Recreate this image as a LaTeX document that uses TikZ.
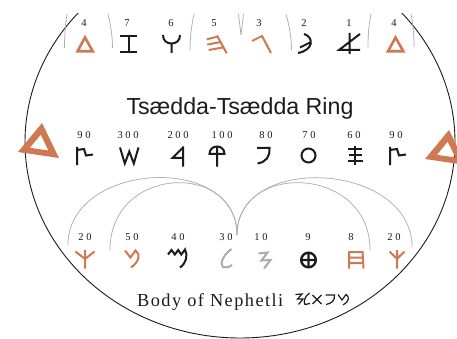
\documentclass[tikz,border=0pt]{standalone}
\usepackage{fontspec}
\setmainfont{Liberation Serif}
\newfontfamily\numfont[LetterSpace=25]{Liberation Serif}
\newfontfamily\titlefont{Liberation Sans}
\newfontfamily\bodyfont[LetterSpace=8]{Liberation Serif}
\definecolor{ochre}{RGB}{207,121,82}
\definecolor{arcgray}{RGB}{175,175,175}
\definecolor{glgray}{RGB}{172,172,172}
\definecolor{ink}{RGB}{28,28,28}
\tikzset{
  num/.style={font=\numfont\fontsize{10.5}{10.5}\selectfont, inner sep=0pt, text=ink},
  gk/.style={draw=ink, line width=2pt, line join=miter, line cap=butt},
  go/.style={draw=ochre, line width=2pt, line join=miter, line cap=butt},
  gg/.style={draw=glgray, line width=2pt, line join=miter, line cap=butt},
  tri/.style={draw=ochre, line width=2.6pt, line join=miter},
  garc/.style={draw=arcgray, line width=0.75pt},
  small/.style={draw=ink, line width=1.2pt, line join=miter},
}
\begin{document}
\begin{tikzpicture}[x=1pt,y=-1pt]
\useasboundingbox (0,0) rectangle (457,339);
\fill[white] (0,0) rectangle (457,339);
\begin{scope}
  \clip (0,14) rectangle (457,339);
  % ring outline
  \draw[ink, line width=0.9pt] (240,142) ellipse [x radius=215pt, y radius=196pt];
  % top arc fragments
  \draw[garc] (67,14) .. controls (65,26) and (64.5,38) .. (64.5,48);
  \draw[garc] (108,14) .. controls (111,26) and (112.5,38) .. (112.5,48);
  \draw[garc] (194,14) .. controls (191,28) and (190,40) .. (190,50);
  \draw[garc] (238.5,14) .. controls (240,24) .. (241,35);
  \draw[garc] (243.5,14) .. controls (242,24) .. (241,35);
  \draw[garc] (286,14) .. controls (290,28) and (291.5,40) .. (291.5,50);
  \draw[garc] (371,14) .. controls (368.5,26) and (368,38) .. (368,47);
  \draw[garc] (411,14) .. controls (413.5,26) and (414,38) .. (414,47);
\end{scope}

% ---------- top row ----------
\node[num] (t1) at (84,23) {4};
\node[num] (t2) at (127,23) {7};
\node[num] (t3) at (171,23) {6};
\node[num] (t4) at (214,23) {5};
\node[num] (t5) at (259,23) {3};
\node[num] (t6) at (304,23) {2};
\node[num] (t7) at (349,23) {1};
\node[num] (t8) at (394,23) {4};

\draw[tri] (85,37.5) -- (77.5,51.3) -- (92.8,51.3) -- cycle;
\draw[gk] (120,36) -- (137,36) (128.5,36) -- (128.5,52) (120,52) -- (137,52);
\draw[gk] (163,35) .. controls (163,41) and (167,43.5) .. (171.5,43.5)
          .. controls (176,43.5) and (180,41) .. (180,35) (171.5,43.5) -- (171.5,53);
\draw[go] (206.7,39.3) -- (217.3,36.7) (207.3,44.6) -- (220.7,42) (208.7,50) -- (224,47.3)
          (217,35.5) -- (226.7,53.3);
\draw[go] (252,41) -- (262,36) -- (271,53);
\draw[gk] (304,34) .. controls (314,37) and (314,50) .. (298,53) (300,47.5) -- (311,42);
\draw[gk] (349.5,33) -- (349.5,54) (360,34) -- (339,50) -- (360,50);
\draw[tri] (395.5,37.5) -- (388,51.3) -- (403.3,51.3) -- cycle;

% ---------- title ----------
\node[font=\titlefont\fontsize{23.2}{23.2}\selectfont, text=ink, anchor=base, inner sep=0pt]
  (title) at (240,115) {Tsædda-Tsædda Ring};

% ---------- big triangles ----------
\fill[ochre, even odd rule] (42,123) -- (18,152) -- (59,158) -- cycle
  (40.7,134.7) -- (29.9,147.8) -- (48.4,150.5) -- cycle;
\fill[ochre, even odd rule] (449,130) -- (425,159) -- (466,165) -- cycle
  (447.7,141.7) -- (436.9,154.8) -- (455.4,157.5) -- cycle;

% ---------- middle row ----------
\node[num] (m1) at (84,135) {90};
\node[num] (m2) at (128,135) {300};
\node[num] (m3) at (178,135) {200};
\node[num] (m4) at (222,135) {100};
\node[num] (m5) at (266,135) {80};
\node[num] (m6) at (309,135) {70};
\node[num] (m7) at (354,135) {60};
\node[num] (m8) at (396,135) {90};

\draw[gk] (77,147) -- (77,165) (77,150) -- (84,149) -- (86,155.5) -- (93,154.5);
\draw[gk] (120,147.5) -- (124.8,163.5) -- (129.3,151.5) -- (133.8,163.5) -- (138.5,147.5);
\draw[gk] (183,146.5) -- (183,166.5) (182.5,148) -- (172.5,158) -- (183,158);
\draw[gk] (217,146.5) -- (217,166.5)
          (209.5,154) .. controls (209.5,144) and (224.5,144) .. (224.5,154) -- cycle;
\draw[gk] (257,148) -- (269.5,148) .. controls (270,157) and (266,162) .. (257.5,163.5);
\draw[gk] (308.5,155.5) circle [radius=7pt];
\draw[gk] (355,146) -- (355,165) (348,149.5) -- (362,149.5) (348.5,155.5) -- (361.5,155.5)
          (347.5,161) -- (362.5,161);
\draw[gk] (390,147) -- (390,165) (390,150) -- (397,149) -- (399,155.5) -- (406,154.5);

% ---------- bottom arcs ----------
\coordinate (j) at (237,235);
\draw[garc] (68,245) .. controls (68,162) and (237,152) .. (j);
\draw[garc] (110,250) .. controls (110,165) and (237,161) .. (j);
\draw[garc] (j) .. controls (237,161) and (370,165) .. (370,250);
\draw[garc] (j) .. controls (237,152) and (412,162) .. (412,247);

% ---------- bottom row ----------
\node[num] (b1) at (85,237) {20};
\node[num] (b2) at (132,237) {50};
\node[num] (b3) at (178,237) {40};
\node[num] (b4) at (226,237) {30};
\node[num] (b5) at (261,237) {10};
\node[num] (b6) at (308,237) {9};
\node[num] (b7) at (351,237) {8};
\node[num] (b8) at (394,237) {20};

\draw[go] (85,250) -- (85,268.5) (75.5,251.5) -- (85,259) -- (94.5,251.5);
\draw[go] (125,250.5) -- (130.5,257.5) -- (135.5,250.5) .. controls (141,254) and (139,262) .. (131,267.5);
\draw[gk] (168,254.5) -- (171.5,250) -- (174.8,254.5) -- (178.2,250) -- (181.3,254.5) -- (185,249.5)
          .. controls (188,255) and (186.5,263) .. (180,267.5);
\draw[gg] (231.5,249) .. controls (224,254) and (219,264) .. (223,267) .. controls (226,268.5) and (229,267) .. (232,265);
\draw[gg] (258.5,253.5) -- (267.5,252.5) -- (261.5,260.5) -- (270.5,260) -- (264,268.5);
\draw[gk, line width=2.4pt] (308.5,260) circle [radius=7.3pt] (301,260) -- (316,260) (308.5,252.5) -- (308.5,267.5);
\draw[go] (349,251) -- (349,268.5) (362.5,251) -- (363.5,268.5)
          (349,252.2) -- (362.5,252.2) (349,257.5) -- (362.8,257.5) (349,263) -- (363.2,263);
\draw[go] (397,250) -- (397,268.5) (389.5,251.5) -- (397,258.8) -- (404.5,251.5);

% ---------- caption ----------
\node[font=\bodyfont\fontsize{18.3}{18.3}\selectfont, text=ink, anchor=base west, inner sep=0pt]
  (cap) at (137,306) {Body of Nephetli};
\draw[small] (295.5,294.5) -- (302,294) -- (297.5,299) -- (303,299) -- (298.5,304.5);
\draw[small] (309.5,293) .. controls (305,296) and (303,302) .. (305,304.5) -- (310,303.5);
\draw[small] (312.5,295) -- (321.5,304) (321.5,295) -- (312.5,304);
\draw[small] (325.5,295) -- (334.5,295) .. controls (335,300) and (332,303.5) .. (326,304.5);
\draw[small] (338,294.5) -- (342,300) -- (346,294.5) .. controls (350,296.5) and (349,302) .. (343,305);
\end{tikzpicture}
\end{document}
